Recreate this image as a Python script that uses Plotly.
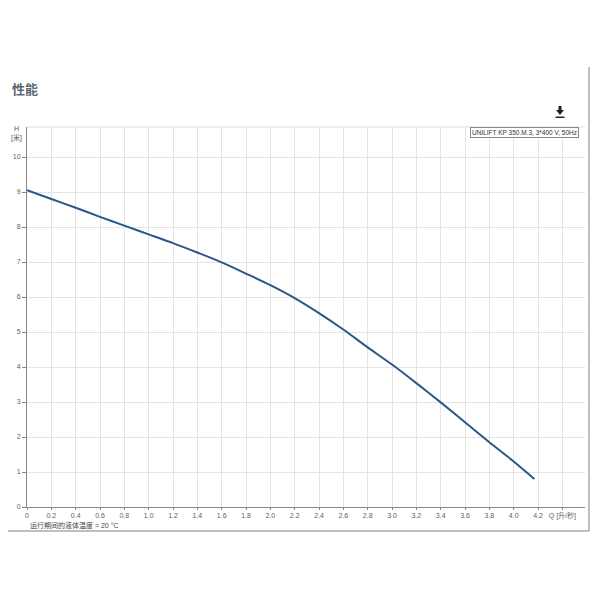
import plotly.graph_objects as go

# pump curve
q_values = [0.0, 0.2, 0.4, 0.6, 0.8, 1.0, 1.2, 1.4, 1.6, 1.8, 2.0, 2.2, 2.4, 2.6,
            2.8, 3.0, 3.2, 3.4, 3.6, 3.8, 4.0, 4.17]
h_values = [9.05, 8.80, 8.55, 8.29, 8.04, 7.79, 7.54, 7.27, 6.99, 6.67, 6.34, 5.97,
            5.54, 5.07, 4.56, 4.07, 3.54, 2.99, 2.42, 1.85, 1.30, 0.80]

x_ticks = [round(i * 0.2, 1) for i in range(23)]
x_labels = ['0'] + ['%.1f' % v for v in x_ticks[1:-1]] + ['Q [升/秒]']
y_ticks = list(range(11))

series_name = 'UNILIFT KP 350.M.3, 3*400 V, 50Hz'
title = '性能'
note = '运行期间的液体温度 = 20 °C'

# page body has an 8px margin, so the figure is drawn 8px in;
# keep it short enough that the page never scrolls
OFF = 8
W, H = 600 - OFF, 570
ML, MR, MT = 27 - OFF, 15, 127 - OFF
MB = H - MT - 380
PW, PH = W - ML - MR, H - MT - MB


def px(x):
    return (x - OFF - ML) / PW


def py(y):
    return (H - MB - (y - OFF)) / PH


fig = go.Figure()
fig.add_trace(go.Scatter(
    x=q_values, y=h_values, mode='lines', name=series_name,
    line={'color': '#2b5888', 'width': 2, 'shape': 'spline', 'smoothing': 0.8},
    hovertemplate='Q: %{x}<br>H: %{y}<extra></extra>',
))

tick_font = {'family': 'Liberation Sans, Noto Sans CJK SC', 'size': 7, 'color': '#606060'}

fig.update_layout(
    width=W, height=H, autosize=False,
    margin={'l': ML, 'r': MR, 't': MT, 'b': MB, 'pad': 0, 'autoexpand': False},
    plot_bgcolor='white', paper_bgcolor='white',
    showlegend=False,
    xaxis={'range': [0, PW / 121.67], 'tickvals': x_ticks, 'ticktext': x_labels,
           'automargin': False,
           'showgrid': True, 'gridcolor': '#e4e4e4', 'zeroline': False,
           'showline': True, 'linecolor': '#888888', 'linewidth': 1,
           'ticks': 'outside', 'ticklen': 2, 'tickcolor': '#888888',
           'tickfont': tick_font, 'fixedrange': True},
    yaxis={'range': [0, PH / 35.0], 'tickvals': y_ticks,
           'automargin': False,
           'showgrid': True, 'gridcolor': '#e4e4e4', 'zeroline': False,
           'showline': True, 'linecolor': '#888888', 'linewidth': 1,
           'ticks': 'outside', 'ticklen': 4, 'tickcolor': '#888888',
           'tickfont': tick_font, 'fixedrange': True},
    font={'family': 'Liberation Sans, Noto Sans CJK SC'},
)

fig.add_annotation(x=px(10), y=py(88), xref='paper', yref='paper', xanchor='left',
                   yanchor='middle', text='<b>' + title + '</b>', showarrow=False,
                   font={'family': 'Noto Sans CJK SC', 'size': 13, 'color': '#5b6874'})
fig.add_annotation(x=px(24), y=py(134), xref='paper', yref='paper', xanchor='right',
                   yanchor='middle', text='H<br>[米]', showarrow=False,
                   font={'family': 'Liberation Sans, Noto Sans CJK SC', 'size': 7, 'color': '#555555'})
fig.add_annotation(x=px(28), y=py(525), xref='paper', yref='paper', xanchor='left',
                   yanchor='middle', text=note, showarrow=False,
                   font={'family': 'Liberation Sans, Noto Sans CJK SC', 'size': 7, 'color': '#444444'})
fig.add_annotation(x=px(579), y=py(132), xref='paper', yref='paper', xanchor='right',
                   yanchor='middle', text=series_name, showarrow=False,
                   bgcolor='white', bordercolor='#888888', borderwidth=1, borderpad=1,
                   font={'family': 'Liberation Sans', 'size': 6.5, 'color': '#333333'})

# plot top border and outer frame
fig.add_shape(type='line', xref='paper', yref='paper', x0=0, x1=1, y0=1, y1=1,
              line={'color': '#dddddd', 'width': 1})
fig.add_shape(type='line', xref='paper', yref='paper', x0=px(589), x1=px(589),
              y0=py(67), y1=py(531), line={'color': '#aaaaaa', 'width': 1.5})
fig.add_shape(type='line', xref='paper', yref='paper', x0=px(8), x1=px(589),
              y0=py(531), y1=py(531), line={'color': '#aaaaaa', 'width': 1.5})

# download icon
fig.add_shape(type='path', xref='paper', yref='paper',
              path='M %f %f L %f %f L %f %f L %f %f L %f %f L %f %f L %f %f Z' % (
                  px(558.5), py(106), px(561.5), py(106), px(561.5), py(110),
                  px(564), py(110), px(560), py(115), px(556), py(110), px(558.5), py(110)),
              fillcolor='#222222', line={'width': 0})
fig.add_shape(type='rect', xref='paper', yref='paper', x0=px(555.5), x1=px(564.5),
              y0=py(116.5), y1=py(118), fillcolor='#222222', line={'width': 0})

fig.write_html('out.html', config={'displayModeBar': False})
